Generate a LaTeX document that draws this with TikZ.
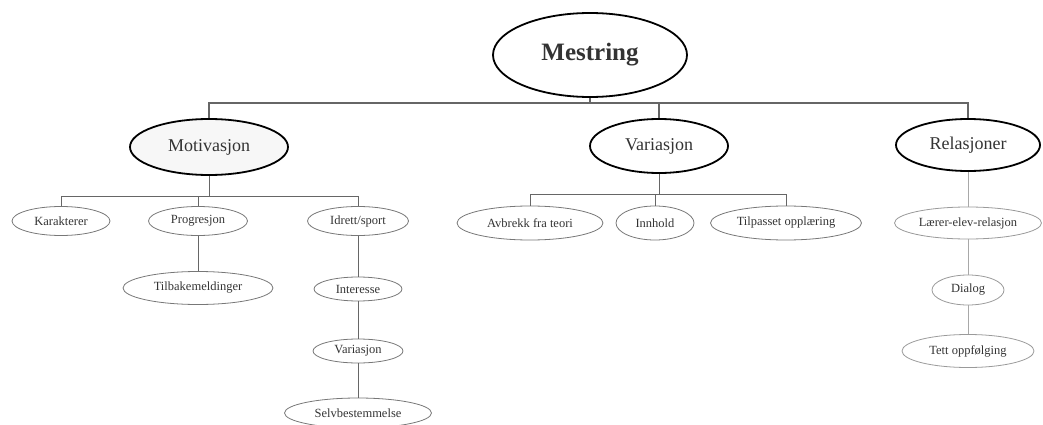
\documentclass[tikz,border=0pt]{standalone}
\usepackage{fontspec}
\setmainfont{Liberation Serif}
\usetikzlibrary{shapes.geometric}
\definecolor{txt}{HTML}{333333}
\definecolor{ln}{HTML}{666666}
\definecolor{lnl}{HTML}{A8A8A8}
\definecolor{ell}{HTML}{777777}
\definecolor{elll}{HTML}{9A9A9A}
\tikzset{
  x=1pt, y=-1pt,
  top/.style={ellipse, draw=black, line width=1.8pt, inner sep=0pt, text=txt, font=\fontsize{18}{20}\selectfont},
  leaf/.style={ellipse, draw=ell, line width=0.8pt, inner sep=0pt, text=txt, font=\fontsize{12.5}{14}\selectfont},
  leafl/.style={leaf, draw=elll},
  conn/.style={draw=ln, line width=1.3pt},
  sconn/.style={draw=ln, line width=0.9pt},
  lconn/.style={draw=lnl, line width=0.9pt},
}
\begin{document}
\begin{tikzpicture}
\useasboundingbox (0,0) rectangle (1043,425);
% top
\node[top, minimum width=194pt, minimum height=84pt, font=\fontsize{25}{28}\selectfont\bfseries] (mest) at (590,55) {Mestring};
\node[top, fill=black!3, minimum width=158pt, minimum height=56pt] (mot) at (209,147) {Motivasjon};
\node[top, minimum width=138pt, minimum height=54pt] (var) at (659,146) {Variasjon};
\node[top, minimum width=144pt, minimum height=52pt] (rel) at (968,145) {Relasjoner};
\coordinate (bus) at (0,103);
\draw[conn] (mest.south) -- (mest.south |- bus);
\draw[conn] (mot.north) -- (mot.north |- bus) -- (rel.north |- bus) -- (rel.north);
\draw[conn] (var.north) -- (var.north |- bus);
% Motivasjon children
\node[leaf, minimum width=98pt, minimum height=29pt] (kar) at (61,221) {Karakterer};
\node[leaf, minimum width=99pt, minimum height=29pt] (prog) at (198,221) {Progresjon};
\node[leaf, minimum width=101pt, minimum height=29pt] (idr) at (358,221) {Idrett/sport};
\node[leaf, minimum width=150pt, minimum height=33pt] (tilb) at (198,288) {Tilbakemeldinger};
\node[leaf, minimum width=88pt, minimum height=24pt] (int) at (358,289) {Interesse};
\node[leaf, minimum width=90pt, minimum height=24pt] (var2) at (358,351) {Variasjon};
\node[leaf, minimum width=147pt, minimum height=30pt] (selv) at (358,413) {Selvbestemmelse};
\coordinate (mbus) at (0,196);
\draw[sconn] (mot.south) -- (mot.south |- mbus);
\draw[sconn] (kar.north) -- (kar.north |- mbus) -- (idr.north |- mbus) -- (idr.north);
\draw[sconn] (prog.north) -- (prog.north |- mbus);
\draw[sconn] (prog) -- (tilb);
\draw[sconn] (idr) -- (int);
\draw[sconn] (int) -- (var2);
\draw[sconn] (var2) -- (selv);
% Variasjon children
\node[leaf, minimum width=146pt, minimum height=34pt] (avb) at (530,223) {Avbrekk fra teori};
\node[leaf, minimum width=78pt, minimum height=34pt] (innh) at (655,223) {Innhold};
\node[leaf, minimum width=151pt, minimum height=34pt] (tilp) at (786,223) {Tilpasset opplæring};
\coordinate (vbus) at (0,194);
\draw[sconn] (var.south) -- (var.south |- vbus);
\draw[sconn] (avb.north) -- (avb.north |- vbus) -- (tilp.north |- vbus) -- (tilp.north);
\draw[sconn] (innh.north) -- (innh.north |- vbus);
% Relasjoner children
\node[leafl, minimum width=147pt, minimum height=32pt] (lae) at (968,223) {Lærer-elev-relasjon};
\node[leafl, minimum width=72pt, minimum height=30pt] (dia) at (968,290) {Dialog};
\node[leafl, minimum width=132pt, minimum height=33pt] (tett) at (968,351) {Tett oppfølging};
\draw[lconn] (rel) -- (lae);
\draw[lconn] (lae) -- (dia);
\draw[lconn] (dia) -- (tett);
\end{tikzpicture}
\end{document}
